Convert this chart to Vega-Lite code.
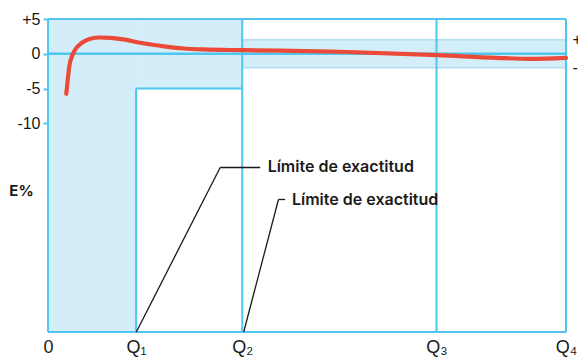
{
  "$schema": "https://vega.github.io/schema/vega-lite/v6.json",
  "autosize": {"type": "none"},
  "width": 518,
  "height": 313,
  "padding": {"left": 48, "top": 19, "right": 12, "bottom": 28},
  "background": "white",
  "config": {"view": {"stroke": null}},
  "resolve": {"axis": {"y": "independent"}},
  "layer": [
    {
      "data": {"values": [
        {"x1": 0, "x2": 17, "y1": -40, "y2": 5},
        {"x1": 17, "x2": 37.5, "y1": -5, "y2": 5}
      ]},
      "mark": {"type": "rect", "fill": "#d3edf9", "strokeWidth": 0},
      "encoding": {
        "x": {"field": "x1", "type": "quantitative", "scale": {"domain": [0, 100], "nice": false, "zero": false},
          "axis": {"values": [0, 17, 37.5, 75, 100], "labelExpr": "datum.value == 0 ? '0' : datum.value == 17 ? 'Q₁' : datum.value == 37.5 ? 'Q₂' : datum.value == 75 ? 'Q₃' : 'Q₄'",
            "title": null, "grid": false, "ticks": false, "domain": false, "labelPadding": 6, "labelFontSize": 18,
            "labelFont": "Liberation Sans, DejaVu Sans", "labelColor": "#1a1a1a", "labelAlign": "center", "labelFlush": false, "labelBound": false, "labelOverlap": false}},
        "x2": {"field": "x2"},
        "y": {"field": "y1", "type": "quantitative", "scale": {"domain": [-40, 5], "nice": false, "zero": false},
          "axis": {"values": [5, 0, -5, -10], "labelExpr": "datum.value > 0 ? '+' + datum.value : '' + datum.value",
            "grid": false, "domain": false, "ticks": true, "tickSize": 10, "tickWidth": 2, "tickColor": "#4fc6f0", "offset": -5,
            "labelPadding": 3, "labelFontSize": 16, "labelFont": "Liberation Sans", "labelColor": "#1a1a1a", "labelOverlap": false, "labelFlush": false, "labelBound": false,
            "title": "E%", "titleAngle": 0, "titleFont": "Inter", "titleFontSize": 15, "titleFontWeight": "bold", "titleColor": "#1a1a1a",
            "titleAlign": "center", "titleBaseline": "alphabetic", "titleX": -32, "titleY": 176}},
        "y2": {"field": "y2"}
      }
    },
    {
      "data": {"values": [{"x1": 37.5, "x2": 100, "y1": -2, "y2": 2}]},
      "mark": {"type": "rect", "fill": "#d3edf9", "stroke": "#b2def3", "strokeWidth": 1.5},
      "encoding": {
        "x": {"field": "x1", "type": "quantitative"},
        "x2": {"field": "x2"},
        "y": {"field": "y1", "type": "quantitative",
          "axis": {"orient": "right", "values": [2, -2], "labelExpr": "datum.value > 0 ? '+' + datum.value : '' + datum.value",
            "grid": false, "domain": false, "ticks": false, "labelPadding": 6, "labelFontSize": 16, "labelFont": "Liberation Sans",
            "labelColor": "#1a1a1a", "labelOverlap": false, "labelFlush": false, "labelBound": false, "title": null}},
        "y2": {"field": "y2"}
      }
    },
    {
      "data": {"values": [
        {"x": 0, "x2": 100, "y": 5, "y2": 5, "w": 2},
        {"x": 0, "x2": 100, "y": -40, "y2": -40, "w": 2},
        {"x": 0, "x2": 0, "y": -40, "y2": 5, "w": 2},
        {"x": 100, "x2": 100, "y": -40, "y2": 5, "w": 2},
        {"x": 17, "x2": 17, "y": -40, "y2": -5, "w": 2},
        {"x": 17, "x2": 37.5, "y": -5, "y2": -5, "w": 2},
        {"x": 37.5, "x2": 37.5, "y": -40, "y2": 5, "w": 2},
        {"x": 75, "x2": 75, "y": -40, "y2": 5, "w": 2},
        {"x": 0, "x2": 100, "y": 0, "y2": 0, "w": 2.5}
      ]},
      "mark": {"type": "rule", "color": "#4fc6f0", "clip": false},
      "encoding": {
        "x": {"field": "x", "type": "quantitative"},
        "x2": {"field": "x2"},
        "y": {"field": "y", "type": "quantitative", "axis": null},
        "y2": {"field": "y2"},
        "strokeWidth": {"field": "w", "type": "quantitative", "scale": null}
      }
    },
    {
      "data": {"values": [
        {"x": 3.53, "y": -5.75},
        {"x": 3.78, "y": -3.94},
        {"x": 4.17, "y": -1.54},
        {"x": 4.63, "y": -0.35},
        {"x": 5.27, "y": 0.62},
        {"x": 6.56, "y": 1.58},
        {"x": 8.16, "y": 2.16},
        {"x": 10.09, "y": 2.34},
        {"x": 12.02, "y": 2.3},
        {"x": 14.59, "y": 2.06},
        {"x": 17.81, "y": 1.58},
        {"x": 21.67, "y": 1.15},
        {"x": 26.16, "y": 0.76},
        {"x": 30.02, "y": 0.62},
        {"x": 37.74, "y": 0.52},
        {"x": 56.4, "y": 0.29},
        {"x": 75.36, "y": -0.2},
        {"x": 86.63, "y": -0.58},
        {"x": 93.06, "y": -0.72},
        {"x": 100, "y": -0.58}
      ]},
      "mark": {"type": "line", "color": "#ec4a38", "strokeWidth": 4.2, "strokeCap": "round", "interpolate": "monotone"},
      "encoding": {
        "x": {"field": "x", "type": "quantitative"},
        "y": {"field": "y", "type": "quantitative", "axis": null}
      }
    },
    {
      "data": {"values": [
        {"x": 17.05, "y": -40, "x2": 33.24, "y2": -16.35},
        {"x": 33.24, "y": -16.35, "x2": 40.96, "y2": -16.35},
        {"x": 37.78, "y": -40, "x2": 44.49, "y2": -20.95},
        {"x": 44.49, "y": -20.95, "x2": 45.78, "y2": -20.95}
      ]},
      "mark": {"type": "rule", "color": "#1a1a1a", "strokeWidth": 1.3},
      "encoding": {
        "x": {"field": "x", "type": "quantitative"},
        "x2": {"field": "x2"},
        "y": {"field": "y", "type": "quantitative", "axis": null},
        "y2": {"field": "y2"}
      }
    },
    {
      "data": {"values": [
        {"x": 42.4, "y": -17.0, "label": "Límite de exactitud"},
        {"x": 47.1, "y": -21.7, "label": "Límite de exactitud"}
      ]},
      "mark": {"type": "text", "align": "left", "baseline": "alphabetic", "font": "Inter", "fontSize": 16, "fontWeight": 600, "color": "#1a1a1a"},
      "encoding": {
        "x": {"field": "x", "type": "quantitative"},
        "y": {"field": "y", "type": "quantitative", "axis": null},
        "text": {"field": "label"}
      }
    }
  ]
}
